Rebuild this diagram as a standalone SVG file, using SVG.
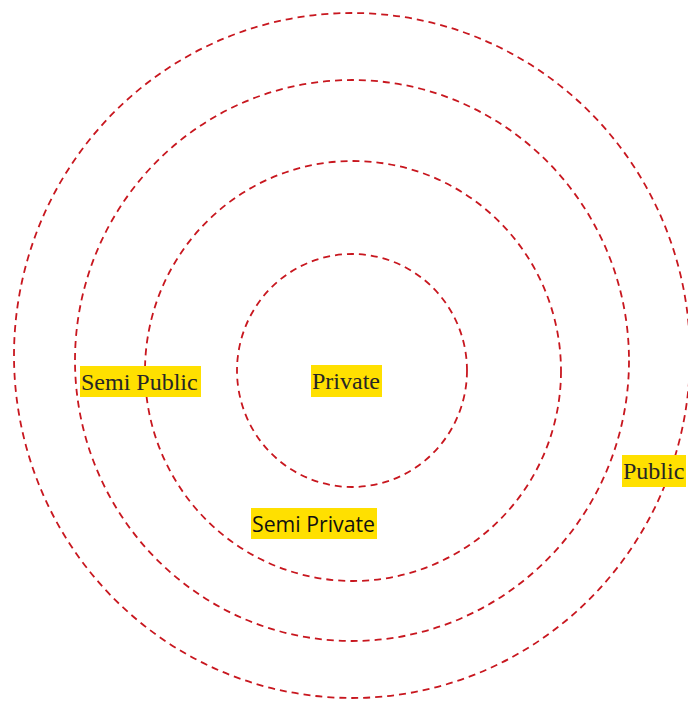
<svg xmlns="http://www.w3.org/2000/svg" width="688" height="702" viewBox="0 0 688 702">
<style>
.ring{fill:none;stroke:#c8171f;stroke-width:1.8;stroke-dasharray:7 5}
.hl{fill:#ffe000}
.serif{font-family:"Liberation Serif","Times New Roman",serif;font-size:24px;fill:#262626}
.sans{font-family:"Open Sans","Liberation Sans",sans-serif;font-size:21px;fill:#111}
</style>
<rect width="688" height="702" fill="#fff"/>
<g id="rings">
<ellipse id="ring-public" class="ring" cx="352" cy="355.5" rx="338" ry="342.5"/>
<ellipse id="ring-semipublic" class="ring" cx="352" cy="360.5" rx="277" ry="280.5"/>
<ellipse id="ring-semiprivate" class="ring" cx="353" cy="371" rx="208" ry="210"/>
<ellipse id="ring-private" class="ring" cx="352" cy="370.5" rx="115" ry="116.5"/>
</g>
<g id="label-semi-public">
<rect class="hl" x="80" y="366" width="121" height="31"/>
<text class="serif" x="81" y="390">Semi Public</text>
</g>
<g id="label-private">
<rect class="hl" x="311" y="365" width="71" height="32"/>
<text class="serif" x="312" y="389">Private</text>
</g>
<g id="label-public">
<rect class="hl" x="622" y="455" width="64" height="32"/>
<text class="serif" x="623" y="479">Public</text>
</g>
<g id="label-semi-private">
<rect class="hl" x="251" y="508" width="126" height="31"/>
<text class="sans" x="252" y="532" textLength="123" lengthAdjust="spacingAndGlyphs">Semi Private</text>
</g>
</svg>
